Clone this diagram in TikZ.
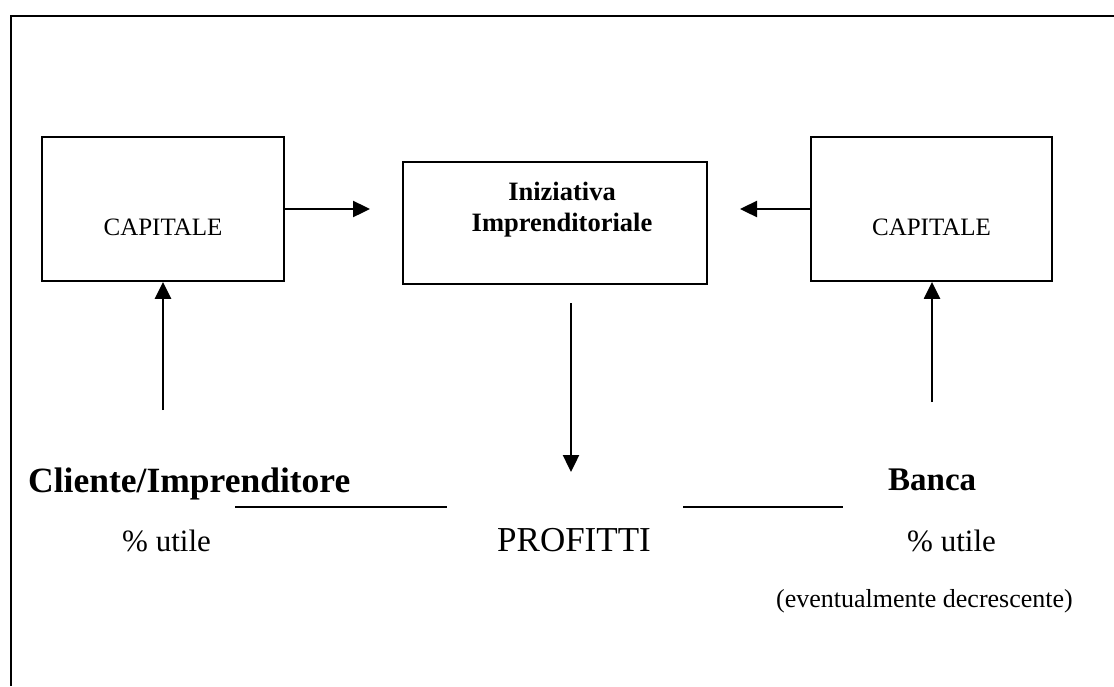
\documentclass[tikz,border=0pt]{standalone}
\usepackage{fontspec}
\setmainfont{Liberation Serif}
\usetikzlibrary{arrows.meta}
\tikzset{
  box/.style={draw, line width=1.8pt, minimum width=#1, inner sep=0pt},
  txt/.style={inner sep=0pt, anchor=base west},
  arr/.style={line width=2.4pt, -{Triangle[length=17pt,width=16pt]}},
  rule/.style={line width=2pt}
}
\begin{document}
\begin{tikzpicture}[x=1pt,y=-1pt]
\useasboundingbox (0,0) rectangle (1114,686);
% frame
\coordinate (f1) at (11,686);
\coordinate (f2) at (11,16);
\coordinate (f3) at (1114,16);
\draw[line width=2.3pt] (f1) -- (f2) -- (f3);
% boxes
\node[box=242pt, minimum height=144pt] (capL) at (163,209) {};
\node[box=304pt, minimum height=122pt] (ini) at (555,223) {};
\node[box=241pt, minimum height=144pt] (capR) at (931.5,209) {};
\node[inner sep=0pt, font=\fontsize{25}{28}\selectfont] (tL) at (163,227) {CAPITALE};
\node[inner sep=0pt, font=\fontsize{25}{28}\selectfont] (tR) at (931.5,227) {CAPITALE};
\node[inner sep=0pt, align=center, font=\bfseries\fontsize{26.5}{31}\selectfont] (tI) at (562,210) {Iniziativa\\Imprenditoriale};
% arrow endpoints
\coordinate (aL) at (370,209);
\coordinate (aR) at (740,209);
\coordinate (uL) at (163,410);
\coordinate (uR) at (932,402);
\coordinate (d1) at (571,303);
\coordinate (d2) at (571,472);
\draw[arr] (capL.east |- aL) -- (aL);
\draw[arr] (capR.west |- aR) -- (aR);
\draw[arr] (uL) -- (uL |- capL.south);
\draw[arr] (uR) -- (uR |- capR.south);
\draw[arr] (d1) -- (d2);
% bottom labels
\node[txt, font=\bfseries\fontsize{35.5}{40}\selectfont] (cli) at (28,492) {Cliente/Imprenditore};
\node[txt, font=\bfseries\fontsize{33}{38}\selectfont] (ban) at (888,490) {Banca};
\node[txt, font=\fontsize{31}{34}\selectfont] (uL1) at (122,551) {\% utile};
\node[txt, font=\fontsize{35}{38}\selectfont] (prof) at (497,551) {PROFITTI};
\node[txt, font=\fontsize{31}{34}\selectfont] (uR1) at (907,551) {\% utile};
\node[inner sep=0pt, anchor=base east, font=\fontsize{26}{30}\selectfont] (ev) at (1073,607) {(eventualmente decrescente)};
% rules
\coordinate (r1a) at (235,507);
\coordinate (r1b) at (447,507);
\coordinate (r2a) at (683,507);
\coordinate (r2b) at (843,507);
\draw[rule] (r1a) -- (r1b);
\draw[rule] (r2a) -- (r2b);
\end{tikzpicture}
\end{document}
